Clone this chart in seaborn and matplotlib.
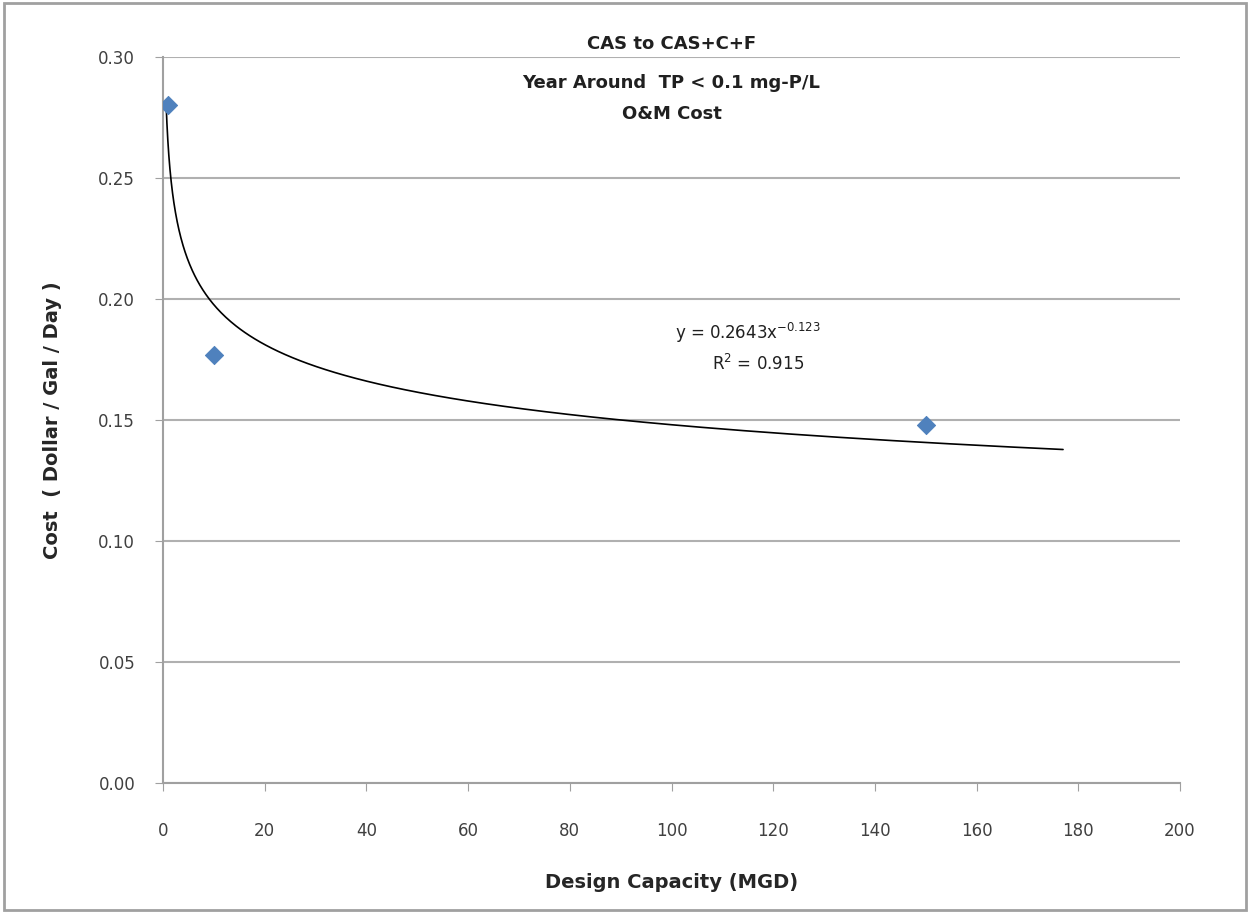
import numpy as np
import pandas as pd
import seaborn as sns
import matplotlib.pyplot as plt

# data points
capacity = [1, 10, 150]            # MGD
cost = [0.280, 0.177, 0.148]       # dollar / gal / day

# trendline range
fit_start = 0.6
fit_end = 177

title_lines = ["CAS to CAS+C+F", "Year Around  TP < 0.1 mg-P/L", "O&M Cost"]
eq_text = "y = 0.2643x$^{-0.123}$"
r2_text = "R$^2$ = 0.915"

sns.set_style("white")
plt.rcParams['font.family'] = ['DejaVu Sans']

df = pd.DataFrame({'capacity': capacity, 'cost': cost})

# power fit in log space (Excel-style trendline)
b, ln_a = np.polyfit(np.log(df['capacity']), np.log(df['cost']), 1)
xs = np.geomspace(fit_start, fit_end, 300)
fit = pd.DataFrame({'capacity': xs, 'cost': np.exp(ln_a) * xs ** b})

fig = plt.figure(figsize=(12.5, 9.13), dpi=100)
ax = fig.add_axes([0.1304, 0.1424, 0.8136, 0.7952])

sns.lineplot(data=fit, x='capacity', y='cost', ax=ax, color='black', linewidth=1.2)
sns.scatterplot(data=df, x='capacity', y='cost', ax=ax, marker='D', s=85,
                color='#4F81BD', edgecolor='#4F81BD', zorder=5)

ax.set_xlim(0, 200)
ax.set_ylim(0, 0.30)
ax.set_xticks(np.arange(0, 201, 20))
ax.set_yticks(np.arange(0, 0.31, 0.05))
ax.set_yticklabels([f"{v:.2f}" for v in np.arange(0, 0.31, 0.05)])
ax.yaxis.grid(True, color='#b0b0b0', linewidth=1.5)
ax.set_axisbelow(True)
for s in ['top', 'right']:
    ax.spines[s].set_visible(False)
for s in ['left', 'bottom']:
    ax.spines[s].set_color('#a0a0a0')
    ax.spines[s].set_linewidth(1.5)
ax.tick_params(axis='both', direction='out', length=6, color='#a0a0a0',
               labelsize=12, labelcolor='#404040', bottom=True, left=True)
ax.tick_params(axis='x', pad=22)
ax.tick_params(axis='y', pad=14)

ax.set_xlabel("Design Capacity (MGD)", fontsize=14, fontweight='bold', labelpad=24)
ax.set_ylabel("Cost  ( Dollar / Gal / Day )", fontsize=14, fontweight='bold', labelpad=26)

title_y = [1.018, 0.964, 0.921]
for line, ty in zip(title_lines, title_y):
    ax.text(0.5, ty, line, transform=ax.transAxes, ha='center',
            va='center', fontsize=13, fontweight='bold', color='#202020')

ax.text(115, 0.186, eq_text, ha='center', va='center', fontsize=12, color='#202020')
ax.text(117, 0.173, r2_text, ha='center', va='center', fontsize=12, color='#202020')

# outer frame
fig.patches.append(plt.Rectangle((0.003, 0.003), 0.994, 0.994, transform=fig.transFigure,
                                 fill=False, edgecolor='#a0a0a0', linewidth=2))

fig.savefig('out.png', dpi=100)
